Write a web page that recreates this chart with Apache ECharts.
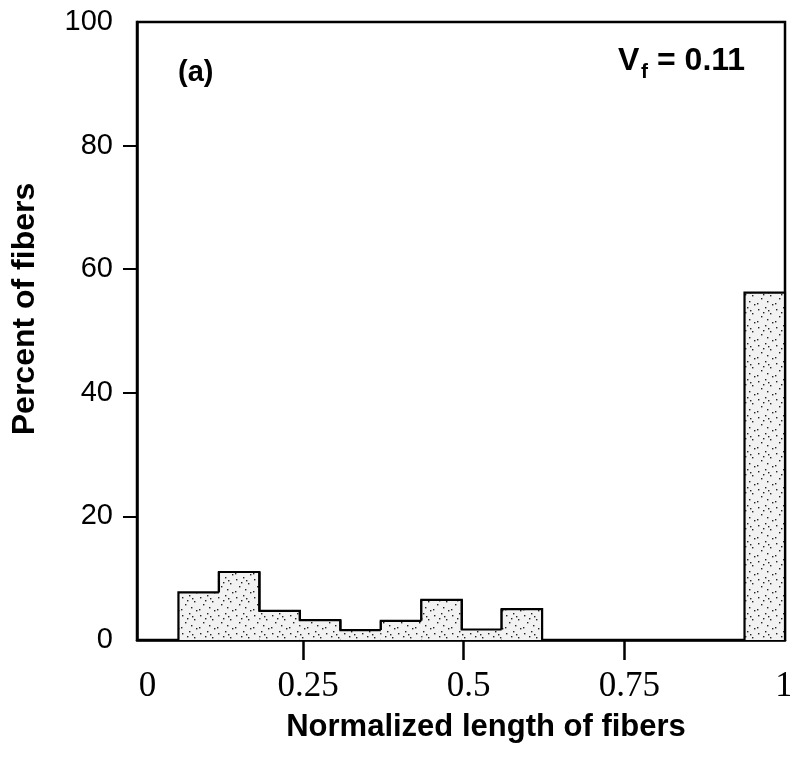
<!DOCTYPE html>
<html><head><meta charset="utf-8">
<script src="https://cdn.jsdelivr.net/npm/echarts@6/dist/echarts.min.js"></script>
<style>html,body{margin:0;padding:0;background:#fff}#c{width:790px;height:758px}</style>
</head><body><div id="c"></div>
<script>
// Histogram bins (normalized fibre length) and percent of fibres
const binStart = [0.056, 0.119, 0.182, 0.245, 0.308, 0.371, 0.434, 0.497, 0.559, 0.937];
const binEnd   = [0.119, 0.182, 0.245, 0.308, 0.371, 0.434, 0.497, 0.559, 0.622, 1.0];
const percent  = [7.7, 11.0, 4.7, 3.2, 1.6, 3.1, 6.5, 1.7, 5.0, 56.2];
const xTickValues  = [0.25, 0.5, 0.75];
const xLabelValues = [0, 0.25, 0.5, 0.75, 1];
const xLabelTexts  = ['0', '0.25', '0.5', '0.75', '1'];
const yTickValues  = [20, 40, 60, 80];
const yLabelValues = [0, 20, 40, 60, 80, 100];

function makePattern() {
  const c = document.createElement('canvas');
  c.width = 18; c.height = 18;
  const g = c.getContext('2d');
  g.fillStyle = '#f2f2f2'; g.fillRect(0, 0, 18, 18);
  g.fillStyle = '#222';
  [[2,3],[9,1],[14,7],[5,10],[11,13],[1,15],[7,6],[16,16],[12,4]].forEach(d => g.fillRect(d[0], d[1], 1.4, 1.4));
  return c;
}
const pattern = { image: makePattern(), repeat: 'repeat' };
const n = percent.length;
const serif = '"Liberation Serif", "Times New Roman", serif';

const chart = echarts.init(document.getElementById('c'), null, { renderer: 'canvas' });
chart.setOption({
  animation: false,
  backgroundColor: '#fff',
  grid: { left: 137, right: 5, top: 22, bottom: 118, show: true, borderColor: '#000', borderWidth: 2.5,
          containLabel: false, outerBoundsMode: 'none' },
  xAxis: {
    type: 'value', min: -0.0085, max: 1.0,
    axisLine: { onZero: false, lineStyle: { color: '#000', width: 2.5 } },
    axisTick: { show: true, customValues: xTickValues, length: 20, inside: false, lineStyle: { color: '#000', width: 2.5 } },
    axisLabel: {
      customValues: xLabelValues, margin: 29, color: '#000',
      fontFamily: serif, fontSize: 35,
      formatter: v => {
        const i = xLabelValues.indexOf(v);
        return (i === xLabelValues.length - 1 ? '{e|' : '{p|') + xLabelTexts[i] + '}';
      },
      rich: {
        p: { fontFamily: serif, fontSize: 35, color: '#000', padding: [0, 0, 0, 10] },
        e: { fontFamily: serif, fontSize: 35, color: '#000', padding: [0, 2, 0, 0] }
      }
    },
    splitLine: { show: false },
    name: 'Normalized length of fibers', nameLocation: 'middle', nameGap: 72,
    nameTextStyle: { fontFamily: '"Liberation Sans", Arial, sans-serif', fontWeight: 'bold', fontSize: 31, color: '#000', padding: [0, 0, 0, 50] }
  },
  yAxis: {
    type: 'value', min: 0, max: 100,
    axisLine: { show: true, onZero: false, lineStyle: { color: '#000', width: 2.5 } },
    axisTick: { show: true, customValues: yTickValues, length: 14, lineStyle: { color: '#000', width: 2 } },
    axisLabel: {
      customValues: yLabelValues, margin: 24, color: '#000',
      fontFamily: '"Liberation Sans", Arial, sans-serif', fontSize: 29
    },
    splitLine: { show: false },
    name: 'Percent of fibers', nameLocation: 'middle', nameGap: 96,
    nameTextStyle: { fontFamily: '"Liberation Sans", Arial, sans-serif', fontWeight: 'bold', fontSize: 32, color: '#000', padding: [0, 0, 0, 44] }
  },
  series: [{
    type: 'custom',
    data: percent.map((p, i) => [binStart[i], binEnd[i], p]),
    encode: { x: [0, 1], y: 2 },
    renderItem: function (params, api) {
      const i = params.dataIndex;
      const p0 = api.coord([api.value(0), 0]);
      const p1 = api.coord([api.value(1), api.value(2)]);
      const left = p0[0], right = p1[0], base = p0[1], top = p1[1];
      const prevAdj = i > 0 && Math.abs(binEnd[i - 1] - binStart[i]) < 1e-6;
      const nextAdj = i < n - 1 && Math.abs(binStart[i + 1] - binEnd[i]) < 1e-6;
      const lb = prevAdj ? api.coord([0, percent[i - 1]])[1] : base;
      const rb = nextAdj ? api.coord([0, percent[i + 1]])[1] : base;
      return {
        type: 'group',
        children: [
          { type: 'rect', shape: { x: left, y: top, width: right - left, height: base - top }, style: { fill: pattern } },
          { type: 'polyline', shape: { points: [[left, lb], [left, top], [right, top], [right, rb]] },
            style: { stroke: '#000', lineWidth: 2.2, fill: null } }
        ]
      };
    }
  }],
  graphic: [
    { type: 'text', x: 178, y: 73, style: { text: '(a)', fill: '#000', font: 'bold 29px "Liberation Sans", Arial, sans-serif', align: 'left', verticalAlign: 'middle' } },
    { type: 'text', x: 618, y: 61, style: { text: 'V', fill: '#000', font: 'bold 32px "Liberation Sans", Arial, sans-serif', align: 'left', verticalAlign: 'middle' } },
    { type: 'text', x: 641, y: 72, style: { text: 'f', fill: '#000', font: 'bold 21px "Liberation Sans", Arial, sans-serif', align: 'left', verticalAlign: 'middle' } },
    { type: 'text', x: 657, y: 61, style: { text: '= 0.11', fill: '#000', font: 'bold 32px "Liberation Sans", Arial, sans-serif', align: 'left', verticalAlign: 'middle' } }
  ]
});
</script>
</body></html>
